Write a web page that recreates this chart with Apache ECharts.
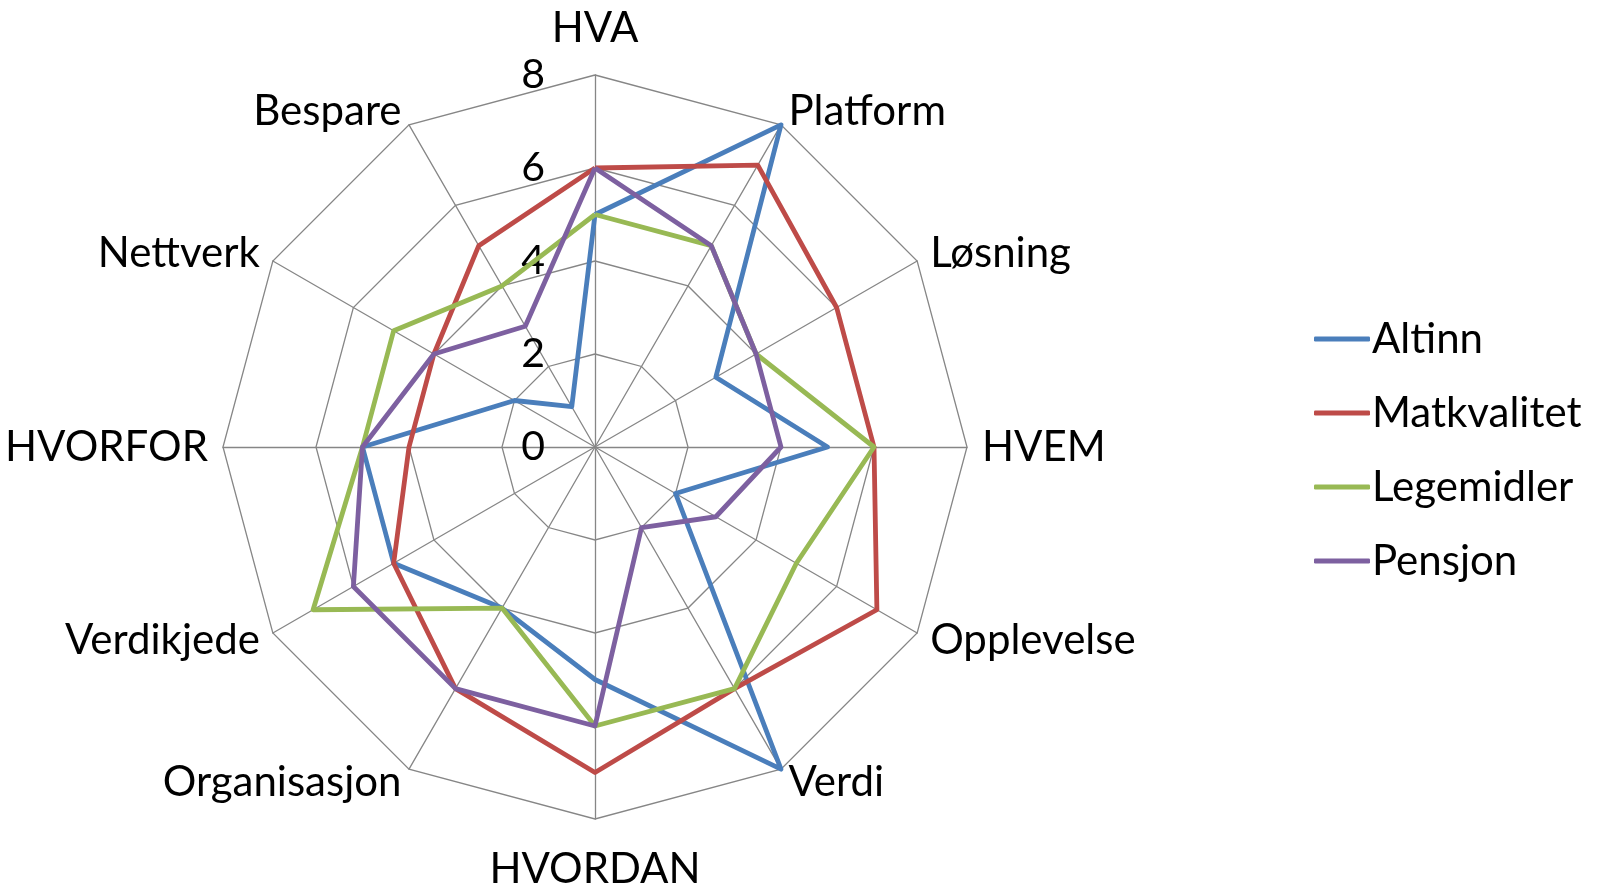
<!DOCTYPE html>
<html>
<head>
<meta charset="utf-8">
<title>radar</title>
<script src="https://cdn.jsdelivr.net/npm/echarts@6/dist/echarts.min.js"></script>
<style>
html,body{margin:0;padding:0;background:#fff;}
#box1{width:1603px;height:888px;}
</style>
</head>
<body>
<div id="box1"></div>
<script>
// 指标(顺时针, 从顶部开始)
var indicatorNames = ['HVA', 'Platform', 'Løsning', 'HVEM', 'Opplevelse', 'Verdi',
	'HVORDAN', 'Organisasjon', 'Verdikjede', 'HVORFOR', 'Nettverk', 'Bespare'];
var seriesNames = ['Altinn', 'Matkvalitet', 'Legemidler', 'Pensjon'];
var altinn      = [5, 8, 3, 5, 2, 8, 5, 4, 5, 5, 2, 1];
var matkvalitet = [6, 7, 6, 6, 7, 6, 7, 6, 5, 4, 4, 5];
var legemidler  = [5, 5, 4, 6, 5, 6, 6, 4, 7, 5, 5, 4];
var pensjon     = [6, 5, 4, 4, 3, 2, 6, 6, 6, 5, 4, 3];
var axisMax = 8;
var axisSplit = 4;

var colors = ['#4a7ebb', '#be4b48', '#98b954', '#7d60a0'];
var fontName = 'Lato';

// echarts 雷达图是逆时针排列, 这里把顺序翻过来 (第一个保持在顶部)
function toClockwise(arr){
	var out = [arr[0]];
	for (var i = arr.length - 1; i > 0; i--) {
		out.push(arr[i]);
	}
	return out;
}

function box1(){
	var dom = document.getElementById('box1');
	var myChart = echarts.init(dom);

	var names = toClockwise(indicatorNames);
	var indicator = [];
	for (var i = 0; i < names.length; i++) {
		var item = {name: names[i], min: 0, max: axisMax};
		if (i == 0) {
			// 只在第一根轴上显示刻度
			item.axisLabel = {show: true};
		}
		indicator.push(item);
	}

	var dataList = [altinn, matkvalitet, legemidler, pensjon];
	var seriesData = [];
	for (var j = 0; j < dataList.length; j++) {
		seriesData.push({
			name: seriesNames[j],
			value: toClockwise(dataList[j]),
			lineStyle: {color: colors[j], width: 4.8},
			itemStyle: {color: colors[j]}
		});
	}

	var option = {
		animation: false,
		color: colors,
		textStyle: {fontFamily: fontName},
		legend: {
			orient: 'vertical',
			left: 1309,
			top: 313,
			itemWidth: 56,
			itemHeight: 5,
			itemGap: 32,
			icon: 'roundRect',
			textStyle: {color: '#000', fontSize: 42, fontFamily: fontName, padding: [0, 0, 0, -3]},
			data: seriesNames
		},
		radar: {
			center: [595, 447],
			radius: 372,
			startAngle: 90,
			shape: 'polygon',
			splitNumber: axisSplit,
			nameGap: 15,
			axisName: {
				color: '#000', fontSize: 42, fontFamily: fontName,
				formatter: function(name){
					if (name == 'HVA') return '{top|' + name + '}';
					if (name == 'HVORDAN') return '{bot|' + name + '}';
					return name;
				},
				rich: {
					top: {fontSize: 42, fontFamily: fontName, color: '#000', padding: [0, 0, 11, 0]},
					bot: {fontSize: 42, fontFamily: fontName, color: '#000', padding: [14, 0, 0, 0]}
				}
			},
			axisLine: {lineStyle: {color: '#868686', width: 1.3}},
			splitLine: {lineStyle: {color: '#868686', width: 1.3}},
			splitArea: {show: false},
			axisTick: {show: false},
			axisLabel: {show: false, color: '#000', fontSize: 41, fontFamily: fontName, margin: 50},
			indicator: indicator
		},
		series: [{
			type: 'radar',
			symbol: 'none',
			data: seriesData
		}]
	};
	myChart.setOption(option, true);
}

box1();
</script>
</body>
</html>
